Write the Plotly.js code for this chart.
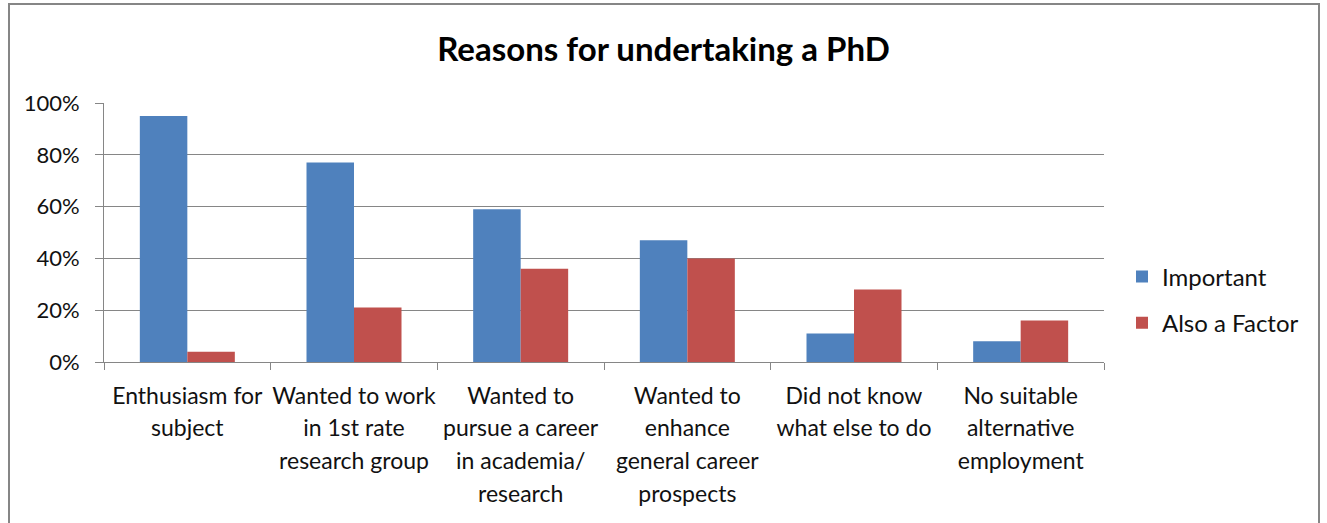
<!DOCTYPE html>
<html>
<head>
<meta charset="utf-8">
<script src="https://cdn.plot.ly/plotly-3.0.1.min.js"></script>
<style>
html,body{margin:0;padding:0;background:#fff;}
#chart{width:1327px;height:523px;}
</style>
</head>
<body>
<div id="chart"></div>
<script>
const categories = [
  "Enthusiasm for<br>subject",
  "Wanted to work<br>in 1st rate<br>research group",
  "Wanted to<br>pursue a career<br>in academia/<br>research",
  "Wanted to<br>enhance<br>general career<br>prospects",
  "Did not know<br>what else to do",
  "No suitable<br>alternative<br>employment"
];
const important = [0.95, 0.77, 0.59, 0.47, 0.11, 0.08];
const alsoFactor = [0.04, 0.21, 0.36, 0.40, 0.28, 0.16];
const yTicks = [0, 0.2, 0.4, 0.6, 0.8, 1.0];
const yTickLabels = ["0%", "20%", "40%", "60%", "80%", "100%"];

const FONT = "Lato, 'Open Sans', sans-serif";
const traces = [
  {type: "bar", name: "Important", x: categories, y: important, legendgroup: "a",
   marker: {color: "#4F81BD", line: {width: 0}}, hoverinfo: "none"},
  {type: "bar", name: "Also a Factor", x: categories, y: alsoFactor, legendgroup: "b",
   marker: {color: "#C0504D", line: {width: 0}}, hoverinfo: "none"}
];
const layout = {
  width: 1327, height: 523,
  margin: {l: 104, r: 223, t: 103, b: 161},
  paper_bgcolor: "#fff", plot_bgcolor: "#fff",
  barmode: "group", bargap: 0.43, bargroupgap: 0,
  font: {family: FONT, size: 22, color: "#111"},
  title: {text: "<b>Reasons for undertaking a PhD</b>", x: 0.5, xref: "container", xanchor: "center",
          y: 0.905, yanchor: "middle",
          font: {family: FONT, size: 33, color: "#000"}},
  xaxis: {type: "category", showline: true, linecolor: "#868686", linewidth: 1,
          ticks: "outside", tickson: "boundaries", ticklen: 7, tickcolor: "#868686",
          tickangle: 0, ticklabelstandoff: 13,
          tickfont: {family: FONT, size: 23, color: "#111"}, showgrid: false, fixedrange: true},
  yaxis: {range: [0, 1], tickvals: yTicks, ticktext: yTickLabels, showline: true, linecolor: "#868686",
          linewidth: 1, ticks: "outside", ticklen: 8, tickcolor: "#868686",
          ticklabelstandoff: 11,
          gridcolor: "#868686", gridwidth: 1, zeroline: false,
          tickfont: {family: FONT, size: 22, color: "#111"}, fixedrange: true},
  legend: {x: 1.018, y: 0.24, xanchor: "left", yanchor: "middle", font: {family: FONT, size: 24, color: "#111"},
           traceorder: "grouped", tracegroupgap: 12, itemwidth: 30, bgcolor: "rgba(0,0,0,0)"},
  showlegend: true,
  shapes: [{type: "rect", xref: "paper", yref: "paper", x0: -0.095, x1: 1.215, y0: -0.7, y1: 1.382,
            line: {color: "#868686", width: 2}, fillcolor: "rgba(0,0,0,0)", layer: "above"}]
};
Plotly.newPlot("chart", traces, layout, {displayModeBar: false, staticPlot: true}).then(function (gd) {
  // widen line spacing of multi-line category labels to match the reference
  gd.querySelectorAll(".xtick text tspan.line").forEach(function (t) {
    const dy = t.getAttribute("dy");
    if (!dy) return;
    const v = parseFloat(dy);
    if (isFinite(v) && v !== 0) t.setAttribute("dy", (v * 1.1).toFixed(3) + "em");
  });
});
</script>
</body>
</html>
